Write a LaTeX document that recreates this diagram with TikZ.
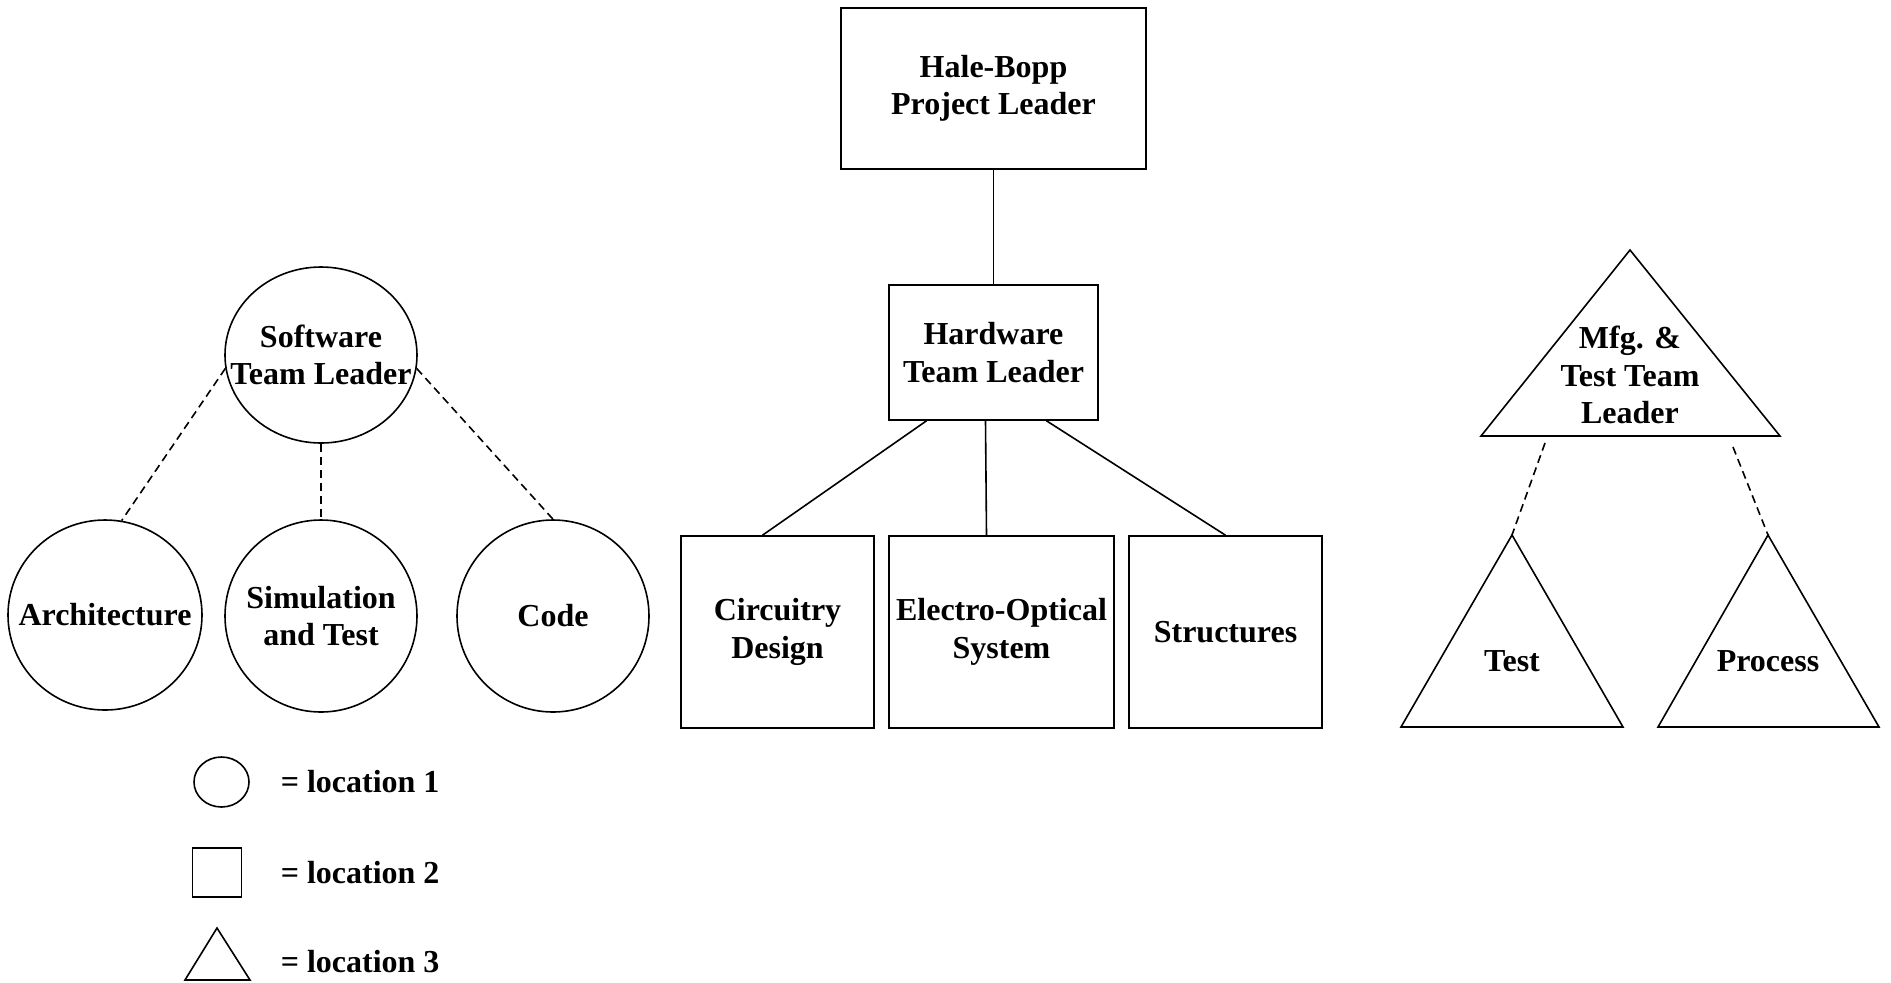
\documentclass[tikz,border=0pt]{standalone}
\usepackage{fontspec}
\setmainfont{Liberation Serif}
\usetikzlibrary{shapes.geometric,calc}

\begin{document}
\begin{tikzpicture}[x=0.5pt,y=-0.5pt,line width=0.8pt,
font=\bfseries\fontsize{16}{18.75}\selectfont,
box/.style={draw,inner sep=0pt,minimum width=96.5pt,minimum height=96pt,align=center},
loc/.style={ellipse,draw,inner sep=0pt,minimum width=96pt,minimum height=96pt},
every label/.style={align=center},
link/.style={dashed,dash pattern=on 4pt off 2.5pt},
lgd/.style={anchor=base west,inner sep=0pt}]
  \useasboundingbox (0,0) rectangle (1891,982);
  % location 2: hardware
  \node[box,minimum width=152.5pt,minimum height=80.5pt] (hb) at (993.5,88.5) {Hale-Bopp\\Project Leader};
  \node[box,minimum width=104.5pt,minimum height=67.5pt] (hw) at (993.5,352.5) {Hardware\\Team Leader};
  \node[box] (cd) at (777.5,632) {Circuitry\\Design};
  \node[box,minimum width=112.5pt] (eo) at (1001.5,632) {Electro-Optical\\System};
  \node[box] (st) at (1225.5,632) {Structures};
  \draw (hb.south) -- (hw.north);
  \draw ($(hw.south)+(-67,0)$) -- ($(cd.north)+(-15,0)$);
  \draw ($(hw.south)+(-8,0)$) -- ($(eo.north)+(-15,0)$);
  \draw ($(hw.south)+(53,0)$) -- (st.north);
  % location 1: software
  \node[loc,minimum height=88pt,label={center:Software\\Team Leader}] (sw) at (321,355) {};
  \node[loc,minimum width=97pt,minimum height=95pt,label={center:Architecture}] (ar) at (105,615) {};
  \node[loc,label={center:Simulation\\and Test}] (si) at (321,616) {};
  \node[loc,label={center:Code}] (co) at (553,616) {};
  \draw[link] (sw.188) -- (ar.80);
  \draw[link] (sw.south) -- (si.north);
  \draw[link] (sw.-8) -- (co.north);
  % location 3: manufacturing
  \coordinate (mfg top) at (1630,250);
  \coordinate (test top) at (1512,535);
  \coordinate (proc top) at (1768,535);
  \draw (mfg top) -- (1481,436) -- (1780,436) -- cycle;
  \draw (test top) -- (1401,727) -- (1623,727) -- cycle;
  \draw (proc top) -- (1658,727) -- (1879,727) -- cycle;
  \node[align=center] (mfg) at (1630,375) {Mfg. \&\\Test Team\\Leader};
  \node (test) at (1512,661) {Test};
  \node (proc) at (1768,661) {Process};
  \coordinate (mfg l) at (1545,443);
  \coordinate (mfg r) at (1733,447);
  \draw[link] (mfg l) -- (test top);
  \draw[link] (mfg r) -- (proc top);
  % legend
  \node[ellipse,draw,inner sep=0pt,minimum width=27.5pt,minimum height=25pt] (leg1) at (221.5,782) {};
  \node[draw,inner sep=0pt,minimum size=24.5pt] (leg2) at (217,872.5) {};
  \draw (217,928) -- (185,980) -- (250,980) -- cycle;
  \node[lgd] (loc1) at (280,792) {= location 1};
  \node[lgd] (loc2) at (280,883) {= location 2};
  \node[lgd] (loc3) at (280,972) {= location 3};
\end{tikzpicture}
\end{document}
